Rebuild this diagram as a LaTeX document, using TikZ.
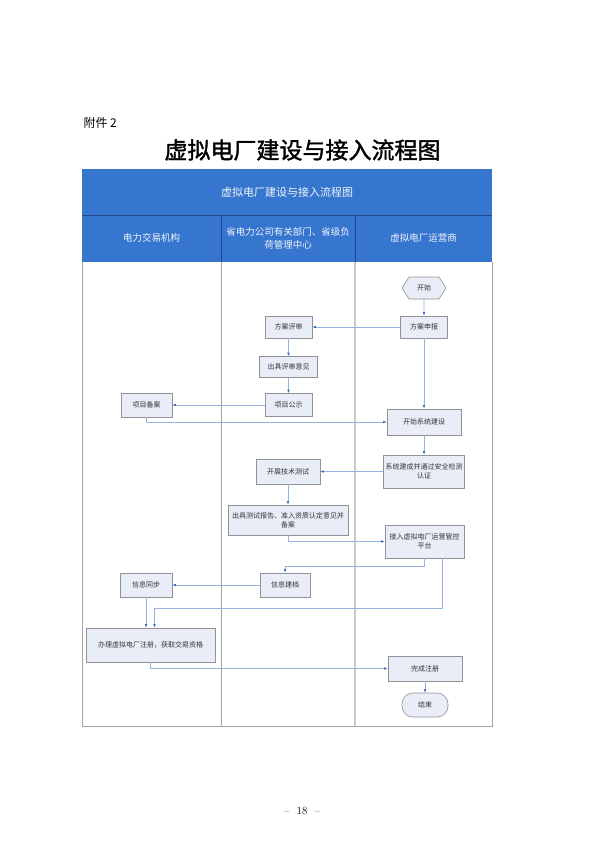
\documentclass[tikz,border=0pt]{standalone}
\usepackage{fontspec}
\newfontfamily\cjk{Noto Sans CJK SC}
\usetikzlibrary{shapes.symbols, arrows.meta, calc, positioning}
\definecolor{headblue}{RGB}{55,118,206}
\definecolor{headdark}{RGB}{30,70,140}
\definecolor{lineblue}{RGB}{150,180,226}
\definecolor{tipblue}{RGB}{60,110,200}
\definecolor{boxfill}{RGB}{232,237,247}
\definecolor{boxdraw}{RGB}{145,145,150}
\definecolor{lanegray}{RGB}{165,165,165}
\tikzset{
   dims/.style 2 args={
      minimum width=#1pt, minimum height=#2pt
   },
   flowbox/.style={
      font=\cjk\fontsize{7}{9}\selectfont, text=black!80,
      draw=boxdraw, fill=boxfill, line width=0.6pt, inner sep=1pt, align=center
   },
   startbox/.style={
      flowbox, shape=signal, signal to=west and east, signal pointer angle=115
   },
   endbox/.style={
      flowbox, rounded corners=11pt
   },
   headtext/.style={
      font=\cjk\fontsize{9.5}{13}\selectfont, text=white!92!headblue, align=center
   },
   flow/.style={-{Latex[length=3.5pt,width=2.6pt,color=tipblue]}, draw=lineblue, line width=0.6pt}
}

\begin{document}
\begin{tikzpicture}[x=1pt,y=-1pt]
            \useasboundingbox[fill=white] (0,0) rectangle (600,848);
            \node[font=\cjk\fontsize{12}{14}\selectfont, anchor=west] (annex) at (80,123) {附件 2};
            \node[font=\cjk\fontsize{23}{26}\selectfont] (title) at (302.5,150) {\addfontfeature{FakeBold=1.5}虚拟电厂建设与接入流程图};
            \node[font=\fontsize{11}{13}\selectfont] (page) at (302,811) {--\ \ 18\ \ --};

            % table
            \fill[headblue] (82,169) rectangle (492,262);
            \draw[headdark, line width=0.6pt] (82,215) -- (492,215);
            \draw[headdark, line width=0.6pt] (221,215) -- (221,262);
            \draw[headdark, line width=0.6pt] (355,215) -- (355,262);
            \draw[lanegray, line width=0.8pt] (82,262) -- (82,726) -- (492,726) -- (492,262);
            \draw[lanegray, line width=0.8pt] (221,262) -- (221,726);
            \draw[lanegray!60, line width=1.5pt] (355,262) -- (355,726);
            \node[headtext, font=\cjk\fontsize{11}{13}\selectfont] (chart) at (287,192) {虚拟电厂建设与接入流程图};
            \node[headtext] (trading) at (151.5,238) {电力交易机构};
            \node[headtext] (grid) at (288,238) {省电力公司有关部门、省级负\\荷管理中心};
            \node[headtext] (operator) at (423.5,238) {虚拟电厂运营商};

            % operator lane
            \node[startbox, dims={44}{22}] (start) at (424,288) {开始};
            \node[flowbox, dims={47}{22}] (declare) at (424,327) {方案申报};
            \node[flowbox, dims={74}{26}] (build) at (424,422) {开始系统建设};
            \node[flowbox, dims={81}{33}] (certify) at (424,471.5) {系统建成并通过安全检测\\认证};
            \node[flowbox, dims={79}{33}] (access) at (424.5,541.5) {接入虚拟电厂运营管控\\平台};
            \node[flowbox, dims={74}{25}] (done) at (425,668.5) {完成注册};
            \node[endbox, dims={46}{24}] (finish) at (425,705) {结束};
            % grid lane
            \node[flowbox, dims={47}{22}] (review) at (288.5,327) {方案评审};
            \node[flowbox, dims={58}{21}] (opinion) at (288.5,367) {出具评审意见};
            \node[flowbox, dims={47}{23}] (publish) at (288.5,405) {项目公示};
            \node[flowbox, dims={64}{25}] (test) at (288,471.5) {开展技术测试};
            \node[flowbox, dims={120}{30}] (report) at (288,520) {出具测试报告、准入资质认定意见并\\备案};
            \node[flowbox, dims={50}{24}] (archive) at (285,585) {信息建档};
            % trading lane
            \node[flowbox, dims={51}{24}] (record) at (146.5,405) {项目备案};
            \node[flowbox, dims={52}{24}] (sync) at (146,585) {信息同步};
            \node[flowbox, dims={129}{34}] (register) at (150.5,645) {办理虚拟电厂注册，获取交易资格};

            \draw[flow] (start) -- (declare);
            \draw[flow] (declare) -- (review);
            \draw[flow] (review) -- (opinion);
            \draw[flow] (opinion) -- (publish);
            \draw[flow] (publish) -- (record);
            \draw[flow] (record.south) |- (build.west);
            \draw[flow] (declare) -- (build);
            \draw[flow] (build) -- (certify);
            \draw[flow] (certify) -- (test);
            \draw[flow] (test) -- (report);
            \draw[flow] (report.south) |- (access.west);
            \draw[flow] (access.south) -- ++(0,8) -| (archive.north);
            \draw[flow] (archive) -- (sync);
            \draw[flow] ($(access.south)+(18,0)$) -- ++(0,50) -| ($(register.north)+(4,0)$);
            \draw[flow] (sync.south) -- (sync.south |- register.north);
            \draw[flow] (register.south) |- (done.west);
            \draw[flow] (done) -- (finish);
         \end{tikzpicture}
\end{document}
